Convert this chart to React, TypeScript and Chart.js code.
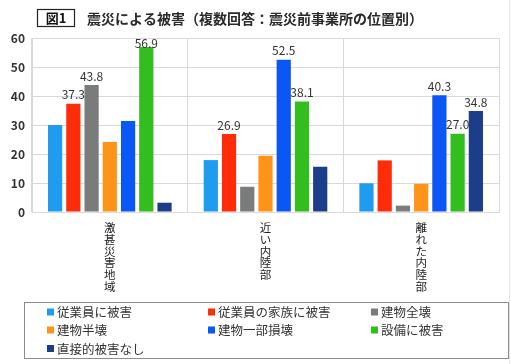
import React, { useEffect, useRef } from "react";
import { Chart, registerables } from "chart.js";

Chart.register(...registerables);

const categories = ["激甚災害地域", "近い内陸部", "離れた内陸部"];
const seriesNames = [
  "従業員に被害",
  "従業員の家族に被害",
  "建物全壊",
  "建物半壊",
  "建物一部損壊",
  "設備に被害",
  "直接的被害なし",
];
const employees = [30.0, 17.9, 9.9];
const families = [37.3, 26.9, 17.8];
const totalCollapse = [43.8, 8.7, 2.2];
const halfCollapse = [24.1, 19.4, 9.7];
const partialDamage = [31.4, 52.5, 40.3];
const equipment = [56.9, 38.1, 27.0];
const noDirect = [3.2, 15.6, 34.8];
// which values carry a printed label
const shownLabels = [
  [false, false, false],
  [true, true, false],
  [true, false, false],
  [false, false, false],
  [false, true, true],
  [true, true, true],
  [false, false, true],
];
const yTicks = [0, 10, 20, 30, 40, 50, 60];
const colors = ["#1F9BEF", "#FF2C0A", "#7A7C7C", "#FF9419", "#0A57F5", "#33BD1F", "#1B3D8A"];

const FONT = '"Noto Sans CJK JP", "Noto Sans", sans-serif';
const TITLE = "震災による被害（複数回答：震災前事業所の位置別）";

const decor = {
  id: "decor",
  afterDraw(chart: any) {
    const ctx = chart.ctx;
    ctx.save();
    // outer faint frame line on right
    ctx.strokeStyle = "#E4E4E4";
    ctx.lineWidth = 1;
    ctx.beginPath();
    ctx.moveTo(509.5, 0);
    ctx.lineTo(509.5, 364);
    ctx.stroke();

    // title box
    ctx.strokeStyle = "#222";
    ctx.lineWidth = 1.2;
    ctx.strokeRect(37.5, 9.5, 37, 17);
    ctx.fillStyle = "#111";
    ctx.font = `bold 13px ${FONT}`;
    ctx.textAlign = "center";
    ctx.textBaseline = "middle";
    ctx.fillText("図1", 56, 18.5);
    ctx.textAlign = "left";
    ctx.font = `bold 14px ${FONT}`;
    ctx.fillStyle = "#2a2a2a";
    const w = ctx.measureText(TITLE).width;
    const chars = TITLE.length;
    const spacing = Math.max(0, (328 - w) / chars);
    (ctx as any).letterSpacing = `${spacing}px`;
    ctx.fillText(TITLE, 87, 18.5);
    (ctx as any).letterSpacing = "0px";

    // data labels
    ctx.font = `12px ${FONT}`;
    ctx.fillStyle = "#333";
    ctx.textAlign = "center";
    ctx.textBaseline = "bottom";
    chart.data.datasets.forEach((ds: any, di: number) => {
      const meta = chart.getDatasetMeta(di);
      meta.data.forEach((bar: any, i: number) => {
        if (!shownLabels[di][i]) return;
        const v = ds.data[i];
        const y = Math.max(bar.y - 3, 49);
        ctx.fillText(v.toFixed(1), bar.x, y);
      });
    });

    // legend
    ctx.strokeStyle = "#8C8C8C";
    ctx.lineWidth = 1;
    ctx.strokeRect(24.5, 302.5, 484, 56);
    const colX = [47, 208, 371];
    const rowY = [312, 330, 348.5];
    ctx.font = `12.5px ${FONT}`;
    ctx.textAlign = "left";
    ctx.textBaseline = "middle";
    chart.data.datasets.forEach((ds: any, di: number) => {
      const cx = colX[di % 3];
      const cy = rowY[Math.floor(di / 3)];
      ctx.fillStyle = ds.backgroundColor;
      ctx.fillRect(cx, cy - 3.5, 7, 7);
      ctx.fillStyle = "#333";
      ctx.fillText(ds.label, cx + 10, cy + 0.5);
    });
    ctx.restore();
  },
};

export default function App() {
  const ref = useRef<HTMLCanvasElement>(null);
  useEffect(() => {
    if (!ref.current) return;
    const series = [employees, families, totalCollapse, halfCollapse, partialDamage, equipment, noDirect];
    const chart = new Chart(ref.current, {
      type: "bar",
      data: {
        labels: categories,
        datasets: series.map((d, i) => ({
          label: seriesNames[i],
          data: d,
          backgroundColor: colors[i],
          borderWidth: 0,
          barPercentage: 0.78,
          categoryPercentage: 0.82,
        })),
      },
      options: {
        animation: false,
        responsive: false,
        devicePixelRatio: 1,
        layout: { padding: { top: 38, right: 12, left: 0, bottom: 0 } },
        plugins: {
          legend: { display: false },
          title: { display: false },
          tooltip: { enabled: false },
        },
        scales: {
          x: {
            grid: { color: "#D9D9D9", drawTicks: false, offset: true },
            border: { color: "#D9D9D9" },
            ticks: {
              autoSkip: false,
              maxRotation: 0,
              minRotation: 0,
              padding: 10,
              color: "#222",
              font: { family: FONT, size: 11.5, lineHeight: 1.02 },
              callback: (_v: any, i: number) => categories[i].split(""),
            },
            afterFit: (s: any) => {
              s.height = 152;
            },
          },
          y: {
            min: 0,
            max: 60,
            afterBuildTicks: (s: any) => {
              s.ticks = yTicks.map((v) => ({ value: v }));
            },
            grid: { color: "#D9D9D9", drawTicks: false },
            border: { color: "#D9D9D9" },
            ticks: {
              padding: 7,
              color: "#333",
              font: { family: FONT, size: 12, weight: "bold" },
            },
            afterFit: (s: any) => {
              s.width = 32;
            },
          },
        },
      },
      plugins: [decor],
    });
    return () => chart.destroy();
  }, []);
  return (
    <div style={{ position: "absolute", left: 0, top: 0, width: 511, height: 364, background: "#fff" }}>
      <canvas ref={ref} width={511} height={364} style={{ width: 511, height: 364 }} />
    </div>
  );
}
